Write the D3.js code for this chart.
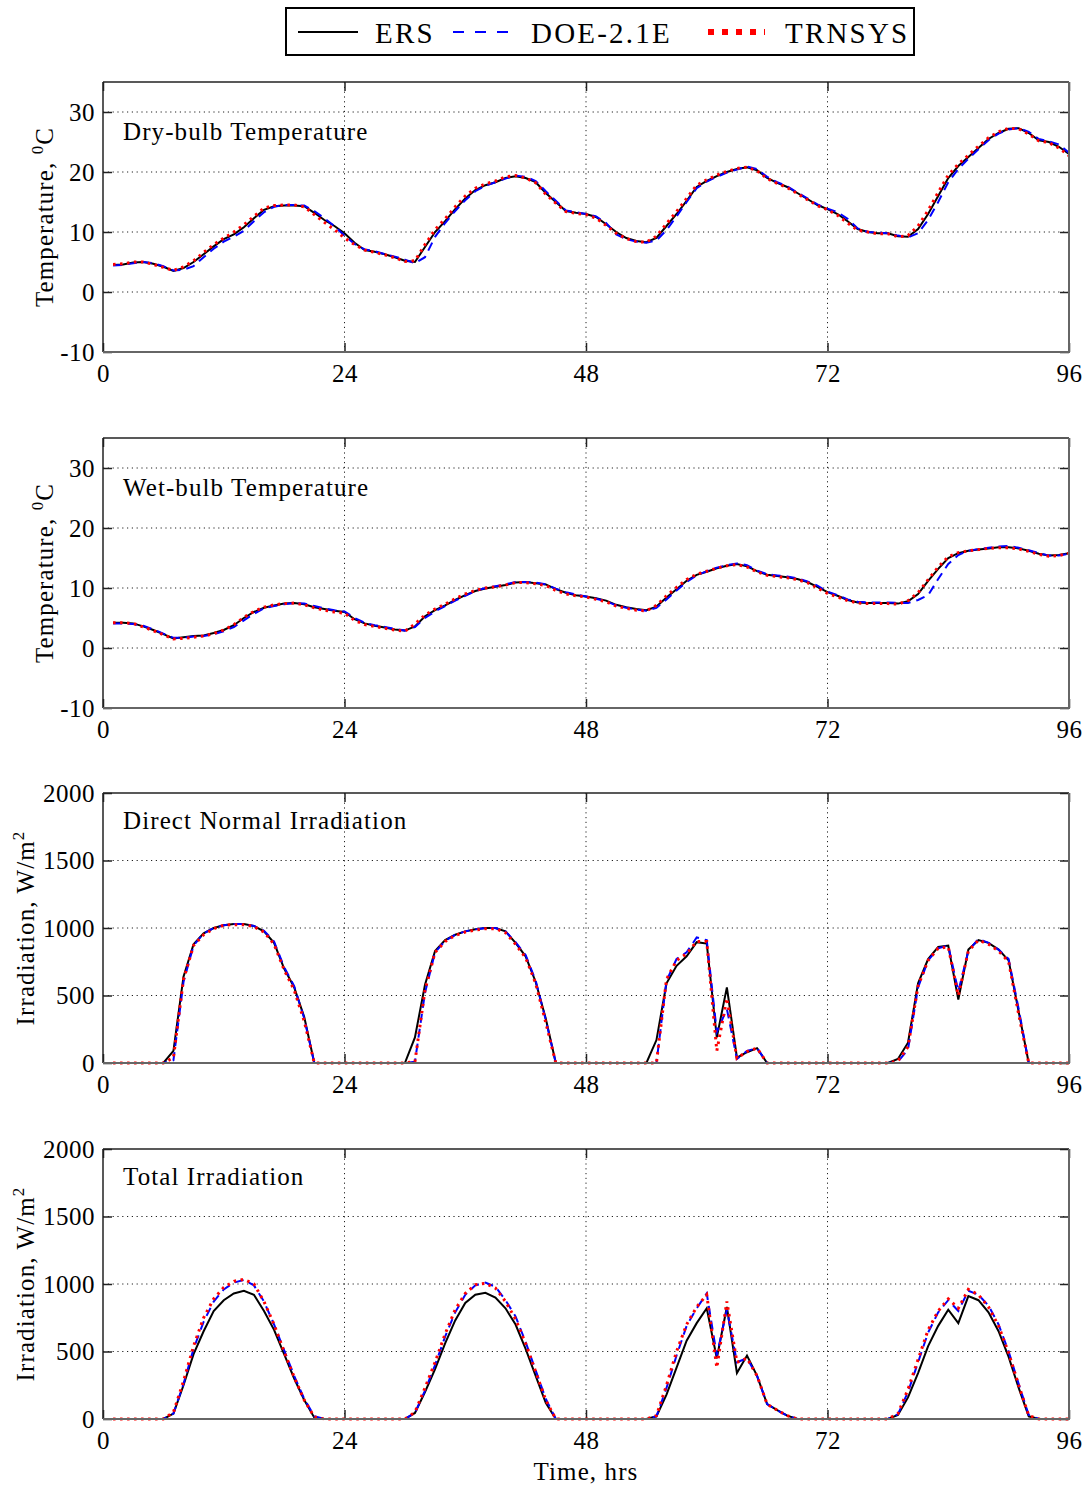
<!DOCTYPE html>
<meta charset="utf-8">
<style>
body { margin: 0; background: #fff; }
text { font-family: "Liberation Serif", "Times New Roman", serif; fill: #000; }
.axis text { font-size: 25px; font-family: "Liberation Serif", serif; letter-spacing: 0.5px; }
.axis path { display: none; }
.axis line { stroke: #222; stroke-width: 1.5; }
.grid line { stroke: #222; stroke-width: 1; stroke-dasharray: 1.2,3.6; }
.wide { letter-spacing: 1.1px; }
</style>
<body>
<script src="https://cdn.jsdelivr.net/npm/d3@7"></script>
<script>

// hours 1..96
var hours = d3.range(1, 97);
var xTicks = [0, 24, 48, 72, 96];

var dbERS = [4.5,4.6,4.9,5.0,4.7,4.2,3.5,4.0,5.0,6.3,7.6,8.8,9.6,10.8,12.3,13.7,14.3,14.4,14.4,14.3,13.2,12.0,11.0,9.8,8.2,7.0,6.7,6.3,5.8,5.2,5.0,7.5,10.0,11.8,13.8,15.6,17.0,17.8,18.3,19.0,19.3,19.0,18.3,16.5,15.0,13.5,13.2,13.0,12.5,11.3,10.0,9.0,8.5,8.3,9.0,11.0,13.0,15.2,17.5,18.5,19.3,20.0,20.5,20.8,20.3,19.0,18.2,17.5,16.5,15.5,14.5,13.8,13.0,11.8,10.5,10.0,9.8,9.8,9.3,9.2,10.5,13.0,16.0,19.0,21.0,22.5,24.0,25.5,26.5,27.2,27.3,26.5,25.3,25.0,24.2,23.0];
var dbDOE = [4.4,4.5,4.8,5.0,4.8,4.3,3.6,3.7,4.3,5.8,7.2,8.4,9.2,10.2,11.8,13.3,14.2,14.5,14.5,14.4,13.5,12.3,11.0,9.4,8.0,7.1,6.8,6.3,5.9,5.4,4.8,5.8,9.2,11.5,13.5,15.3,16.8,17.7,18.3,18.9,19.4,19.2,18.5,16.8,15.2,13.6,13.3,13.0,12.6,11.5,9.6,8.8,8.4,8.2,8.6,10.3,12.6,15.0,17.3,18.4,19.2,19.9,20.4,20.9,20.5,19.2,18.3,17.6,16.6,15.6,14.6,13.9,13.3,12.2,10.6,10.0,9.9,9.8,9.4,9.1,9.8,12.0,15.0,18.3,20.5,22.2,23.8,25.3,26.4,27.1,27.3,26.7,25.5,25.1,24.6,23.2];
var dbTRN = [4.6,4.7,5.0,5.0,4.6,4.1,3.6,4.2,5.2,6.6,7.9,9.0,10.0,11.2,12.6,14.0,14.4,14.5,14.5,14.2,12.9,11.6,10.4,9.0,7.9,7.0,6.6,6.2,5.7,5.1,5.2,7.9,10.4,12.2,14.2,16.0,17.3,18.0,18.5,19.2,19.4,19.0,18.2,16.3,14.8,13.4,13.1,12.9,12.3,11.1,9.8,8.9,8.4,8.3,9.3,11.4,13.4,15.6,17.8,18.7,19.5,20.1,20.6,20.8,20.2,18.9,18.1,17.4,16.4,15.4,14.4,13.7,12.8,11.5,10.3,10.0,9.7,9.7,9.2,9.4,11.0,13.6,16.6,19.5,21.3,22.8,24.3,25.7,26.7,27.3,27.2,26.3,25.2,24.9,24.0,22.7];

var wbERS = [4.2,4.2,4.1,3.6,3.0,2.3,1.6,1.8,2.0,2.1,2.5,3.0,3.8,5.0,6.0,6.7,7.1,7.4,7.5,7.3,6.8,6.5,6.2,6.0,4.8,4.1,3.7,3.4,3.1,2.9,3.6,5.3,6.3,7.1,8.0,8.8,9.5,9.9,10.2,10.5,10.9,11.0,10.8,10.6,9.8,9.2,8.8,8.6,8.3,7.9,7.2,6.8,6.5,6.3,6.9,8.4,9.8,11.2,12.2,12.7,13.3,13.7,14.0,13.6,12.8,12.2,12.0,11.8,11.5,11.0,10.2,9.3,8.7,8.0,7.6,7.5,7.5,7.5,7.4,7.8,9.0,11.2,13.2,15.0,15.8,16.2,16.4,16.6,16.8,16.8,16.6,16.2,15.7,15.4,15.5,15.8];
var wbDOE = [4.1,4.1,4.0,3.7,3.1,2.4,1.7,1.7,1.9,2.0,2.3,2.8,3.5,4.6,5.7,6.6,7.0,7.3,7.5,7.4,7.0,6.6,6.3,6.1,5.0,4.2,3.8,3.5,3.2,2.9,3.5,5.0,6.1,7.0,7.9,8.7,9.5,10.0,10.3,10.6,11.0,11.0,10.9,10.6,9.9,9.3,8.9,8.6,8.2,7.8,7.1,6.7,6.4,6.2,6.7,8.1,9.6,11.0,12.1,12.8,13.4,13.8,14.1,13.8,12.9,12.3,12.1,11.9,11.6,11.1,10.4,9.4,8.8,8.1,7.7,7.6,7.6,7.6,7.5,7.5,8.0,8.8,11.5,14.0,15.5,16.2,16.5,16.7,16.9,17.0,16.7,16.3,15.8,15.4,15.4,15.7];
var wbTRN = [4.2,4.2,4.1,3.5,2.9,2.2,1.5,1.6,1.8,2.0,2.4,3.0,3.9,5.1,6.1,6.8,7.2,7.4,7.5,7.2,6.7,6.3,6.0,5.8,4.6,3.9,3.6,3.3,3.0,2.8,4.0,5.5,6.5,7.3,8.2,9.0,9.6,10.0,10.2,10.5,10.9,10.9,10.7,10.4,9.6,9.0,8.7,8.5,8.1,7.7,7.0,6.6,6.3,6.2,7.1,8.7,10.1,11.4,12.3,12.8,13.3,13.7,13.9,13.5,12.7,12.1,11.9,11.7,11.4,10.9,10.0,9.1,8.5,7.9,7.5,7.4,7.4,7.4,7.3,7.9,9.2,11.4,13.5,15.2,15.9,16.2,16.4,16.6,16.7,16.7,16.5,16.1,15.6,15.3,15.4,15.8];

var dnERS = [0,0,0,0,0,0,90,640,880,960,1000,1020,1030,1030,1015,975,890,700,560,340,0,0,0,0,0,0,0,0,0,0,190,580,830,910,950,975,990,1000,1000,975,890,790,600,330,0,0,0,0,0,0,0,0,0,0,170,590,720,790,895,885,190,560,40,80,110,0,0,0,0,0,0,0,0,0,0,0,0,0,30,150,590,770,860,870,470,840,910,890,840,760,380,0,0,0,0,0];
var dnDOE = [0,0,0,0,0,0,20,600,870,960,1000,1020,1030,1030,1015,980,900,710,570,330,0,0,0,0,0,0,0,0,0,0,10,520,820,905,950,975,990,1000,1000,975,895,800,610,320,0,0,0,0,0,0,0,0,0,0,0,610,770,820,930,910,230,400,30,90,110,0,0,0,0,0,0,0,0,0,0,0,0,0,10,100,560,760,850,870,530,830,920,890,840,770,400,0,0,0,0,0];
var dnTRN = [0,0,0,0,0,0,40,620,870,950,995,1020,1025,1025,1010,970,880,690,540,310,0,0,0,0,0,0,0,0,0,0,10,540,820,900,945,970,985,995,995,965,880,780,590,300,0,0,0,0,0,0,0,0,0,0,0,620,760,810,900,900,90,480,35,85,110,0,0,0,0,0,0,0,0,0,0,0,0,0,15,120,570,760,850,860,500,830,910,880,830,750,360,0,0,0,0,0];

var tiERS = [0,0,0,0,0,0,40,250,480,650,800,880,930,950,920,800,660,480,300,140,10,0,0,0,0,0,0,0,0,0,45,200,370,560,730,860,920,935,900,820,700,520,320,120,0,0,0,0,0,0,0,0,0,0,20,180,380,580,710,820,450,830,340,470,320,110,65,25,0,0,0,0,0,0,0,0,0,0,30,160,340,540,690,810,710,910,880,790,650,460,230,20,0,0,0,0];
var tiDOE = [0,0,0,0,0,0,40,260,520,720,870,960,1010,1030,990,870,700,510,320,150,20,0,0,0,0,0,0,0,0,0,45,210,400,610,790,920,990,1010,980,880,760,570,360,150,0,0,0,0,0,0,0,0,0,0,20,230,470,690,820,930,470,810,420,450,320,110,65,25,0,0,0,0,0,0,0,0,0,0,35,200,420,640,790,880,800,950,920,840,700,500,260,30,0,0,0,0];
var tiTRN = [0,0,0,0,0,0,50,280,540,750,890,975,1020,1035,1000,870,700,500,310,140,15,0,0,0,0,0,0,0,0,0,50,230,420,630,810,930,995,1005,970,870,740,560,350,140,0,0,0,0,0,0,0,0,0,0,25,250,500,700,830,920,380,870,420,450,320,110,65,25,0,0,0,0,0,0,0,0,0,0,40,220,440,660,800,890,820,960,920,830,690,490,250,25,0,0,0,0];

var seriesNames = ["ERS", "DOE-2.1E", "TRNSYS"];
var panelTitles = ["Dry-bulb Temperature", "Wet-bulb Temperature", "Direct Normal Irradiation", "Total Irradiation"];
var tempTicks = [-10, 0, 10, 20, 30];
var irrTicks = [0, 500, 1000, 1500, 2000];

var panels = [
  {title: panelTitles[0], kind: "T", domain: [-10, 35], ticks: tempTicks, data: [dbERS, dbDOE, dbTRN]},
  {title: panelTitles[1], kind: "T", domain: [-10, 35], ticks: tempTicks, data: [wbERS, wbDOE, wbTRN]},
  {title: panelTitles[2], kind: "I", domain: [0, 2000], ticks: irrTicks, data: [dnERS, dnDOE, dnTRN]},
  {title: panelTitles[3], kind: "I", domain: [0, 2000], ticks: irrTicks, data: [tiERS, tiDOE, tiTRN]}
];

var styles = [
  {stroke: "#000", width: 2, dash: null},
  {stroke: "#0000ff", width: 2, dash: "9,6"},
  {stroke: "#ff0000", width: 3, dash: "2.5,4.5"}
];

var W = 1089, H = 1488;
var left = 103, right = 1069, ph = 270;
var tops = [82, 438, 793, 1149];

var svg = d3.select("body").append("svg")
    .attr("width", W)
    .attr("height", H);

var x = d3.scaleLinear().domain([0, 96]).range([left, right]);
var plain = function(d) { return String(d); };

panels.forEach(function(p, i) {
  var top = tops[i], bottom = top + ph;
  var y = d3.scaleLinear().domain(p.domain).range([bottom, top]);
  var g = svg.append("g");

  // dotted grid
  var grid = g.append("g").attr("class", "grid");
  grid.selectAll(".gy")
      .data(p.ticks.filter(function(t) { return t !== p.domain[0] && t !== p.domain[1]; }))
    .enter().append("line")
      .attr("x1", left).attr("x2", right)
      .attr("y1", function(d) { return y(d); })
      .attr("y2", function(d) { return y(d); });
  grid.selectAll(".gx")
      .data(xTicks.slice(1, -1))
    .enter().append("line")
      .attr("x1", function(d) { return x(d); })
      .attr("x2", function(d) { return x(d); })
      .attr("y1", top).attr("y2", bottom);

  // axes, ticks inward
  g.append("g").attr("class", "axis")
      .attr("transform", "translate(0," + bottom + ")")
      .call(d3.axisBottom(x).tickValues(xTicks).tickSize(-9).tickPadding(12).tickFormat(plain));
  g.append("g").attr("class", "axis")
      .attr("transform", "translate(0," + top + ")")
      .call(d3.axisTop(x).tickValues(xTicks).tickSize(-9).tickFormat(""));
  g.append("g").attr("class", "axis")
      .attr("transform", "translate(" + left + ",0)")
      .call(d3.axisLeft(y).tickValues(p.ticks).tickSize(-9).tickPadding(8).tickFormat(plain));
  g.append("g").attr("class", "axis")
      .attr("transform", "translate(" + right + ",0)")
      .call(d3.axisRight(y).tickValues(p.ticks).tickSize(-9).tickFormat(""));

  // series
  var line = d3.line()
      .x(function(d, j) { return x(hours[j]); })
      .y(function(d) { return y(d); });
  p.data.forEach(function(arr, k) {
    g.append("path")
        .datum(arr)
        .attr("d", line)
        .attr("fill", "none")
        .attr("stroke", styles[k].stroke)
        .attr("stroke-width", styles[k].width)
        .attr("stroke-dasharray", styles[k].dash);
  });

  // frame
  g.append("line").attr("x1", left).attr("x2", right).attr("y1", top).attr("y2", top)
      .attr("stroke", "#222").attr("stroke-width", 1.5);
  g.append("line").attr("x1", left).attr("x2", left).attr("y1", top).attr("y2", bottom)
      .attr("stroke", "#222").attr("stroke-width", 1.5);
  g.append("line").attr("x1", right).attr("x2", right).attr("y1", top).attr("y2", bottom + 1)
      .attr("stroke", "#666").attr("stroke-width", 2);
  g.append("line").attr("x1", left).attr("x2", right).attr("y1", bottom).attr("y2", bottom)
      .attr("stroke", "#666").attr("stroke-width", 2);

  g.append("text")
      .attr("class", "wide")
      .attr("x", 123)
      .attr("y", top + (p.kind === "T" ? 58 : 36))
      .style("font-size", "25px")
      .text(p.title);

  var lab = g.append("text")
      .attr("class", "wide")
      .attr("transform", "translate(" + (p.kind === "T" ? 53 : 34) + "," + (top + ph / 2) + ") rotate(-90)")
      .attr("text-anchor", "middle")
      .style("font-size", "25px");
  if (p.kind === "T") {
    lab.append("tspan").text("Temperature, ");
    lab.append("tspan").attr("dy", -10).style("font-size", "17px").text("0");
    lab.append("tspan").attr("dy", 10).text("C");
  } else {
    lab.append("tspan").text("Irradiation,  W/m");
    lab.append("tspan").attr("dy", -10).style("font-size", "17px").text("2");
    lab.append("tspan").attr("dy", 10).text(" ");
  }
});

svg.append("text")
    .attr("class", "wide")
    .attr("x", (left + right) / 2)
    .attr("y", 1480)
    .attr("text-anchor", "middle")
    .style("font-size", "25px")
    .text("Time, hrs");

// legend
var legend = svg.append("g");
legend.append("rect")
    .attr("x", 286).attr("y", 8).attr("width", 628).attr("height", 47)
    .attr("fill", "#fff").attr("stroke", "#000").attr("stroke-width", 2);
var legX = [[298, 358, 375], [453, 515, 531], [708, 765, 785]];
seriesNames.forEach(function(name, k) {
  legend.append("line")
      .attr("x1", legX[k][0]).attr("x2", legX[k][1])
      .attr("y1", 32).attr("y2", 32)
      .attr("stroke", styles[k].stroke)
      .attr("stroke-width", k === 2 ? 6 : 2)
      .attr("stroke-dasharray", k === 0 ? null : (k === 1 ? "11,11" : "6,8"));
  legend.append("text")
      .attr("x", legX[k][2]).attr("y", 43)
      .style("font-size", "29px")
      .style("letter-spacing", "2.2px")
      .text(name);
});

</script>
</body>
